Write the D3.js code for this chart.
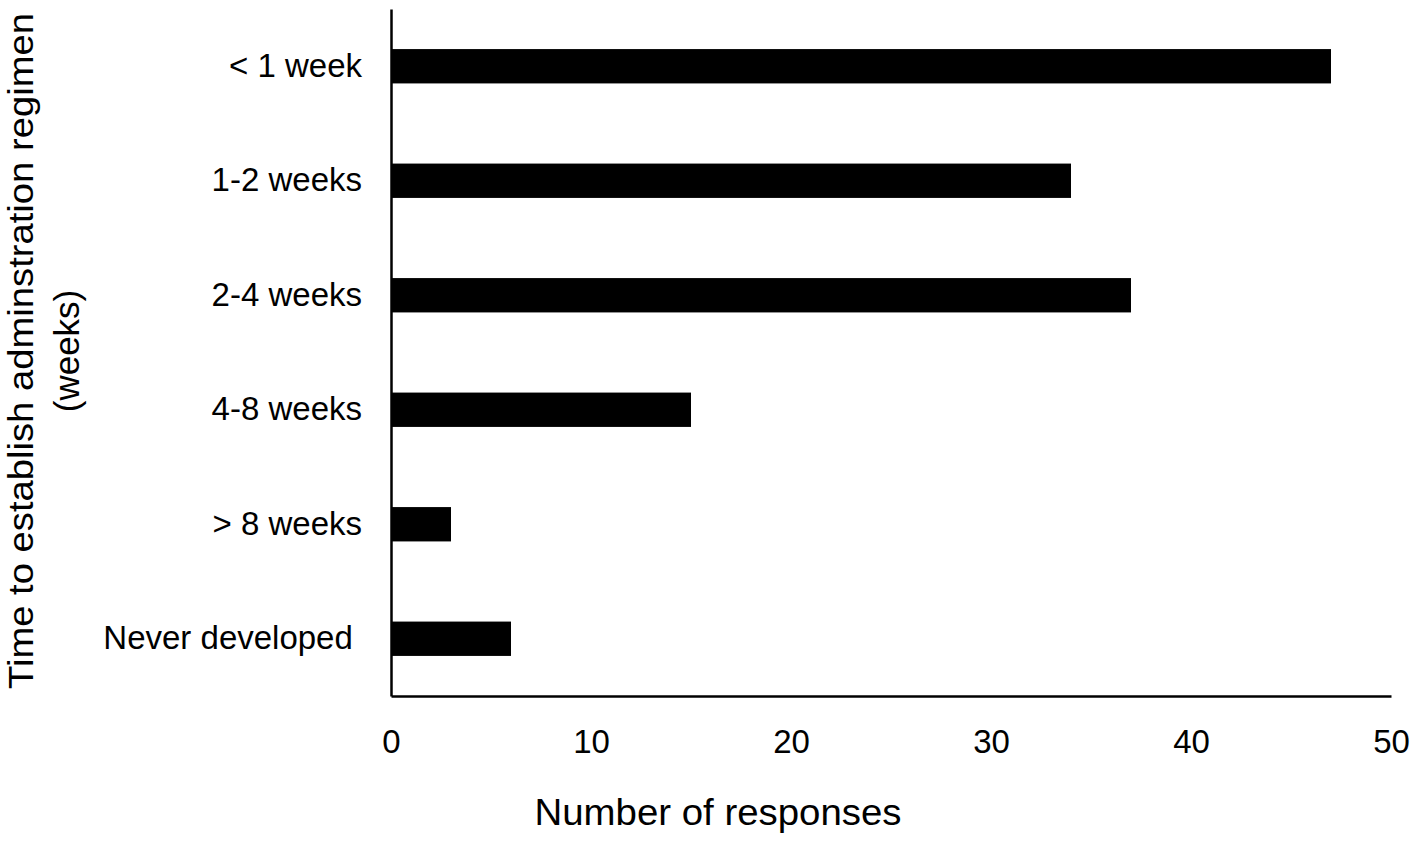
<!DOCTYPE html>
<html>
<head>
<meta charset="utf-8">
<script src="https://cdn.jsdelivr.net/npm/d3@7"></script>
<style>
  body { margin: 0; background: #fff; }
  text { font-family: "Liberation Sans", Arial, sans-serif; fill: #000; }
</style>
</head>
<body>
<div class="chart"></div>
<script>
// data
var categories = ["< 1 week", "1-2 weeks", "2-4 weeks", "4-8 weeks", "> 8 weeks", "Never developed\u00a0"];
var responses = [47, 34, 37, 15, 3, 6];
var xTicks = [0, 10, 20, 30, 40, 50];
var xTitle = "Number of responses";
var yTitle = ["Time to establish adminstration regimen", "(weeks)"];

var width = 1417;
var height = 841;

var svg = d3.select(".chart").append("svg")
    .attr("width", width)
    .attr("height", height);

// scales
var x = d3.scaleLinear()
    .domain([0, 50])
    .range([391, 1391]);

var y = d3.scaleBand()
    .domain(categories)
    .range([9, 696])
    .paddingInner(0.7)
    .paddingOuter(0.35);

// bars
svg.selectAll("rect.bar")
    .data(responses)
    .enter().append("rect")
    .attr("class", "bar")
    .attr("x", x(0))
    .attr("y", function(d, i) { return y(categories[i]); })
    .attr("width", function(d) { return x(d) - x(0); })
    .attr("height", y.bandwidth())
    .style("fill", "#000");

// x axis
var xAxis = svg.append("g")
    .attr("transform", "translate(0,696)")
    .call(d3.axisBottom(x).tickValues(xTicks).tickSize(0).tickPadding(34).tickFormat(d3.format("d")));

// y axis
var yAxis = svg.append("g")
    .attr("transform", "translate(391,0)")
    .call(d3.axisLeft(y).tickSize(0).tickPadding(29));

[xAxis, yAxis].forEach(function(g) {
  g.select(".domain").attr("stroke", "#000").attr("stroke-width", 2.5);
  g.selectAll("text")
    .style("font-family", "'Liberation Sans', Arial, sans-serif")
    .style("font-size", "33px")
    .attr("fill", "#000");
});

// axis titles
svg.append("text")
    .attr("x", 718)
    .attr("y", 825)
    .attr("text-anchor", "middle")
    .attr("textLength", 367)
    .attr("lengthAdjust", "spacingAndGlyphs")
    .style("font-size", "36px")
    .text(xTitle);

svg.append("text")
    .attr("transform", "translate(33,351) rotate(-90)")
    .attr("text-anchor", "middle")
    .attr("textLength", 676)
    .attr("lengthAdjust", "spacingAndGlyphs")
    .style("font-size", "35px")
    .text(yTitle[0]);

svg.append("text")
    .attr("transform", "translate(79,351) rotate(-90)")
    .attr("text-anchor", "middle")
    .style("font-size", "35px")
    .text(yTitle[1]);
</script>
</body>
</html>
